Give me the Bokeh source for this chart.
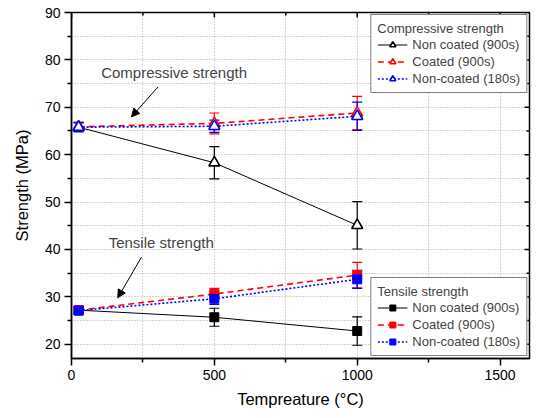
import math
from bokeh.plotting import figure
from bokeh.models import (ColumnDataSource, Whisker, TeeHead, Legend, LegendItem,
                          Range1d, Arrow, NormalHead, Label, FixedTicker)
from bokeh.embed import file_html
from bokeh.resources import INLINE

# ---------------- data ----------------
temperature = [25, 500, 1000]

comp_nc900 = [65.8, 58.3, 45.1]
comp_nc900_err = [0.9, 3.4, 5.0]
comp_c900 = [65.9, 66.6, 68.8]
comp_c900_err = [0.9, 2.2, 3.5]
comp_nc180 = [65.8, 66.0, 68.1]
comp_nc180_err = [1.0, 1.3, 3.0]

ten_nc900 = [27.2, 25.7, 22.8]
ten_nc900_err = [0.6, 1.9, 3.0]
ten_c900 = [27.2, 30.6, 34.6]
ten_c900_err = [0.6, 1.2, 2.7]
ten_nc180 = [27.1, 29.6, 33.7]
ten_nc180_err = [0.8, 1.2, 1.9]

series_labels = ["Non coated (900s)", "Coated (900s)", "Non-coated (180s)"]
x_ticks = [0, 500, 1000, 1500]
x_minor = [250, 750, 1250]
y_ticks = [20, 30, 40, 50, 60, 70, 80, 90]
y_minor = [25, 35, 45, 55, 65, 75, 85]

X_MIN, X_MAX = 0, 1603
Y_MIN, Y_MAX = 17, 90

FONT = "Liberation Sans"

p = figure(width=531, height=410, output_backend="svg", toolbar_location=None,
           x_range=Range1d(X_MIN, X_MAX), y_range=Range1d(Y_MIN, Y_MAX),
           min_border_left=71, min_border_top=12, min_border_right=2, min_border_bottom=52)
p.background_fill_color = "white"
p.outline_line_color = "black"
p.outline_line_width = 1.5

# grid
for g in (p.xgrid, p.ygrid):
    g.grid_line_color = "#a8a8a8"
    g.grid_line_dash = "1 2"
    g.grid_line_width = 1
    g.minor_grid_line_color = "#a8a8a8"
    g.minor_grid_line_dash = "1 2"
    g.minor_grid_line_width = 1

xt = FixedTicker(ticks=x_ticks, minor_ticks=x_minor)
yt = FixedTicker(ticks=y_ticks, minor_ticks=y_minor)
p.xaxis.ticker = xt
p.yaxis.ticker = yt
p.xgrid.ticker = xt
p.ygrid.ticker = yt

for ax in (p.xaxis[0], p.yaxis[0]):
    ax.axis_line_width = 1.5
    ax.major_tick_line_width = 1.5
    ax.minor_tick_line_width = 1.5
    ax.major_tick_out = 7
    ax.major_tick_in = 0
    ax.minor_tick_out = 4
    ax.minor_tick_in = 0
    ax.major_label_text_font = FONT
    ax.major_label_text_font_size = "14px"
    ax.major_label_text_color = "black"
    ax.axis_label_text_font = FONT
    ax.axis_label_text_font_size = "16.5px"
    ax.axis_label_text_font_style = "normal"
    ax.axis_label_text_color = "black"
    ax.major_label_standoff = 4

p.xaxis.axis_label = "Tempreature (°C)"
p.yaxis.axis_label = "Strength (MPa)"
p.xaxis.axis_label_standoff = 7
p.yaxis.axis_label_standoff = 11

# mirrored (inward) ticks on the top and right edges
p.ray(x=[X_MAX] * len(y_ticks), y=y_ticks, length=5, length_units="screen",
      angle=math.pi, line_color="black", line_width=1.5)
p.ray(x=[X_MAX] * len(y_minor), y=y_minor, length=3, length_units="screen",
      angle=math.pi, line_color="black", line_width=1.5)
p.ray(x=x_ticks, y=[Y_MAX] * len(x_ticks), length=5, length_units="screen",
      angle=-math.pi / 2, line_color="black", line_width=1.5)
p.ray(x=x_minor, y=[Y_MAX] * len(x_minor), length=3, length_units="screen",
      angle=-math.pi / 2, line_color="black", line_width=1.5)

styles = [
    dict(color="black", dash="solid", lw=1.0),
    dict(color="red", dash="6 4", lw=1.6),
    dict(color="blue", dash="2 2", lw=1.6),
]

def draw_group(values, errs, marker, fill_white):
    items = []
    for vals, err, lab, st in zip(values, errs, series_labels, styles):
        src = ColumnDataSource(dict(
            x=temperature, y=vals,
            lo=[v - e for v, e in zip(vals, err)],
            hi=[v + e for v, e in zip(vals, err)]))
        ln = p.line("x", "y", source=src, line_color=st["color"], line_width=st["lw"],
                    line_dash=st["dash"])
        w = Whisker(base="x", lower="lo", upper="hi", source=src, dimension="height",
                    line_color=st["color"], line_width=1.2,
                    upper_head=TeeHead(size=10, line_color=st["color"], line_width=1.2),
                    lower_head=TeeHead(size=10, line_color=st["color"], line_width=1.2))
        p.add_layout(w)
        if fill_white:
            sc = p.scatter("x", "y", source=src, marker=marker, size=11,
                           line_color=st["color"], fill_color="white", line_width=1.6)
        else:
            sc = p.scatter("x", "y", source=src, marker=marker, size=9,
                           line_color=st["color"], fill_color=st["color"], line_width=1)
        items.append(LegendItem(label=lab, renderers=[ln, sc]))
    return items

comp_items = draw_group([comp_nc900, comp_c900, comp_nc180],
                        [comp_nc900_err, comp_c900_err, comp_nc180_err], "triangle", True)
ten_items = draw_group([ten_nc900, ten_c900, ten_nc180],
                       [ten_nc900_err, ten_c900_err, ten_nc180_err], "square", False)

def make_legend(items, title, loc):
    lg = Legend(items=items, title=title, location=loc)
    lg.title_text_font = FONT
    lg.title_text_font_size = "13px"
    lg.title_text_font_style = "normal"
    lg.title_standoff = 1
    lg.label_text_font = FONT
    lg.label_text_font_size = "13px"
    lg.label_height = 15
    lg.glyph_height = 15
    lg.glyph_width = 30
    lg.label_standoff = 5
    lg.spacing = 2
    lg.padding = 6
    lg.margin = 2
    lg.border_line_color = "black"
    lg.border_line_width = 1.2
    lg.background_fill_color = "white"
    lg.background_fill_alpha = 1
    return lg

p.add_layout(make_legend(comp_items, "Compressive strength", "top_right"))
p.add_layout(make_legend(ten_items, "Tensile strength", "bottom_right"))

# annotations
p.add_layout(Label(x=359, y=77.4, text="Compressive strength", text_font=FONT,
                   text_font_size="15px", text_align="center", text_baseline="middle"))
p.add_layout(Label(x=314, y=41.4, text="Tensile strength", text_font=FONT,
                   text_font_size="15px", text_align="center", text_baseline="middle"))
p.add_layout(Arrow(x_start=303, y_start=74.3, x_end=210, y_end=68.0,
                   line_color="black", line_width=1,
                   end=NormalHead(size=8, fill_color="black", line_color="black")))
p.add_layout(Arrow(x_start=245, y_start=38.4, x_end=162, y_end=29.8,
                   line_color="black", line_width=1,
                   end=NormalHead(size=8, fill_color="black", line_color="black")))

open("out.html", "w").write(file_html(p, INLINE))
